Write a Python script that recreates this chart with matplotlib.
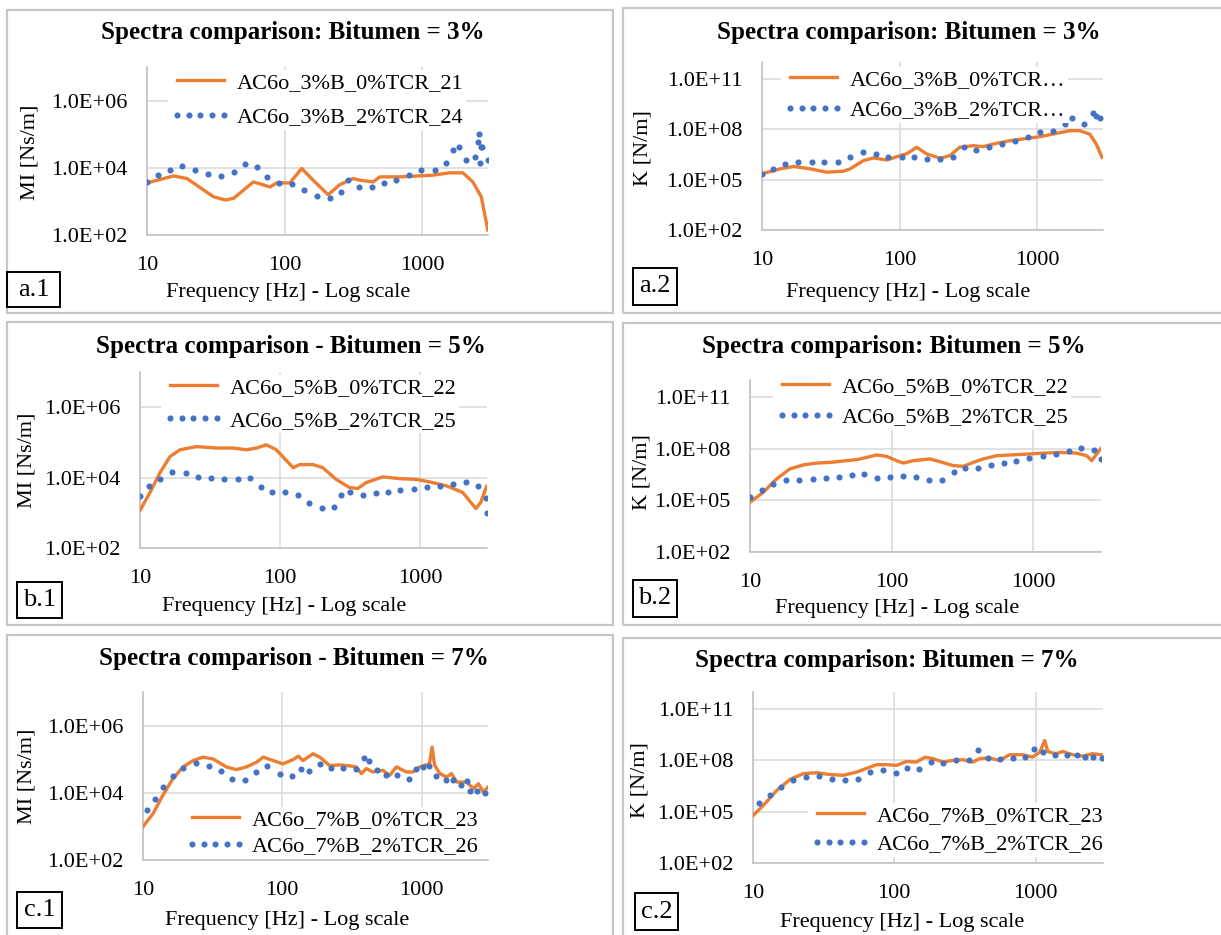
import matplotlib
matplotlib.use("Agg")
import matplotlib.pyplot as plt
from matplotlib.patches import Rectangle
from matplotlib.ticker import NullLocator

plt.rcParams["font.family"] = ["Liberation Serif", "DejaVu Serif"]

W, H = 1221, 935
ORANGE = "#ED7D31"
BLUE = "#4472C4"
GRID = "#D9D9D9"

# ---- data (frequency in Hz, MI in Ns/m, K in N/m) ----
f_mi3_0 = [10, 15.6, 19.5, 30.4, 37, 42.5, 59.3, 78.3, 87.5, 109, 133, 161, 207, 252, 315,
           352, 439, 491, 685, 957, 1194, 1578, 1973, 2330, 2680, 2990]
mi3_0 = [3550, 5730, 4790, 1380, 1100, 1230, 3800, 2690, 3550, 3550, 9550, 4270, 1580, 3160,
         4790, 4270, 3800, 5370, 5370, 5750, 6030, 7080, 7080, 3800, 1380, 141]
f_mi3_2 = [10, 12.0, 14.6, 18.1, 22.5, 27.8, 34.6, 42.7, 51.6, 62.7, 74.5, 91.5, 113, 139, 172,
           212, 256, 289, 347, 432, 527, 648, 805, 984, 1228, 1493, 1660, 1834, 2060, 2395,
           2530, 2600, 2680, 2610, 2720, 2990]
mi3_2 = [3800, 6000, 8800, 11100, 8400, 6600, 5700, 7500, 12700, 10600, 5350, 3630, 3240, 2250,
         1460, 1280, 1920, 4460, 2700, 2700, 3630, 4460, 6000, 8800, 8800, 13900, 33000, 41400,
         16700, 20900, 58000, 103000, 41400, 13900, 41400, 16700]

f_k3_0 = [10, 13.6, 17, 22.4, 29.5, 39, 43.7, 54.5, 64.5, 80.7, 101, 112, 133, 157, 197, 232,
          273, 342, 404, 504, 631, 831, 1040, 1370, 1720, 2030, 2400, 2680, 2950]
k3_0 = [2.24e5, 4.37e5, 6.03e5, 4.37e5, 2.75e5, 3.16e5, 4.37e5, 1.35e6, 1.95e6, 1.48e6, 2.69e6,
        3.39e6, 8.32e6, 3.39e6, 1.86e6, 2.69e6, 8.32e6, 1.05e7, 9.12e6, 1.45e7, 2.04e7, 2.82e7,
        3.55e7, 5.62e7, 8.13e7, 8.13e7, 5.13e7, 1.32e7, 2.14e6]
f_k3_2 = [10, 12.0, 14.8, 18.3, 22.9, 28.4, 35.5, 43.9, 54.1, 67, 82.9, 104, 128, 159, 198, 245,
          293, 360, 445, 550, 684, 851, 1040, 1300, 1590, 1800, 2200, 2530, 2680, 2830]
k3_2 = [2.24e5, 4.37e5, 8.71e5, 1.17e6, 1.1e6, 1.1e6, 1.17e6, 2.34e6, 4.68e6, 3.39e6, 2.34e6,
        2.14e6, 2.14e6, 1.7e6, 1.7e6, 2.34e6, 8.32e6, 5.75e6, 8.32e6, 1.32e7, 2.04e7, 3.55e7,
        6.46e7, 8.13e7, 2.0e8, 4.9e8, 2.0e8, 8.91e8, 6.17e8, 4.47e8]

f_mi5_0 = [10, 11.8, 13.9, 16.4, 19.3, 25.3, 35.2, 46.2, 57.5, 67.9, 79.9, 94, 124, 138, 172,
           202, 251, 312, 358, 412, 542, 712, 937, 1160, 1530, 2010, 2500, 2710, 2980]
mi5_0 = [1175, 3800, 13800, 39800, 61700, 75900, 69200, 69200, 61700, 69200, 85100, 61700, 19100,
         23400, 23400, 19100, 8910, 5250, 4900, 7240, 10500, 9330, 8910, 7590, 5890, 3800, 1320,
         2000, 5620]
f_mi5_2 = [10, 11.6, 13.9, 16.9, 21.2, 26, 32.2, 39.9, 49.7, 60.8, 72.8, 88.0, 109, 134, 162,
           198, 244, 273, 318, 390, 480, 586, 721, 900, 1112, 1390, 1710, 2130, 2600, 2930, 2990]
mi5_2 = [3090, 5620, 9330, 14500, 13200, 10700, 9550, 8910, 9330, 10000, 5250, 3800, 3800, 3240,
         1860, 1350, 1510, 3240, 3980, 3240, 3550, 3980, 4470, 4680, 5250, 5620, 6460, 7590, 5620,
         2570, 1000]

f_k5_0 = [10, 12.4, 15.4, 19.1, 23.8, 29.5, 36.7, 45.5, 56.6, 66.5, 78.3, 92.2, 108, 121, 142,
          186, 219, 272, 320, 376, 442, 550, 684, 895, 1180, 1540, 2010, 2380, 2580, 3000]
k5_0 = [7.94e4, 2.95e5, 1.78e6, 6.76e6, 1.15e7, 1.48e7, 1.62e7, 1.95e7, 2.34e7, 3.16e7, 4.37e7,
        3.63e7, 2.04e7, 1.48e7, 2.04e7, 2.57e7, 1.78e7, 1.05e7, 9.55e6, 1.62e7, 2.57e7, 3.98e7,
        4.37e7, 4.9e7, 5.62e7, 6.17e7, 5.62e7, 3.98e7, 2.04e7, 1.05e8]
f_k5_2 = [10, 12.1, 14.6, 17.9, 22.3, 27.7, 34.2, 42.4, 52.2, 64.1, 79.3, 97.8, 121, 148, 184,
          227, 277, 328, 408, 500, 616, 753, 934, 1160, 1440, 1770, 2170, 2680, 2990]
k5_2 = [1.66e5, 4.27e5, 9.12e5, 1.55e6, 1.62e6, 1.78e6, 1.95e6, 2.19e6, 3.16e6, 3.47e6, 1.95e6,
        2.19e6, 2.51e6, 2.19e6, 1.62e6, 1.62e6, 4.27e6, 7.59e6, 7.59e6, 1.15e7, 1.48e7, 2.04e7,
        2.75e7, 3.63e7, 4.9e7, 7.76e7, 1.05e8, 8.91e7, 2.57e7]

f_mi7_0 = [10, 11.8, 13.9, 16.4, 19.4, 22.9, 26.9, 31.8, 39.7, 46.8, 55.3, 65.3, 73, 86, 101,
           120, 130, 141, 166, 186, 219, 258, 305, 340, 370, 401, 447, 527, 591, 660, 778, 868,
           970, 1080, 1140, 1190, 1240, 1350, 1510, 1640, 1790, 2110, 2360, 2560, 2780, 3000]
mi7_0 = [977, 2400, 8510, 26300, 58900, 91200, 115000, 102000, 58900, 49000, 58900, 81300,
         115000, 91200, 72400, 97700, 123000, 91200, 145000, 115000, 64600, 67600, 63100, 58900,
         37200, 52500, 41700, 46800, 33100, 58900, 41700, 41700, 58900, 67600, 72400, 229000,
         67600, 37200, 29500, 37200, 20900, 20900, 13200, 18600, 10500, 14800]
f_mi7_2 = [10.6, 12.2, 14.0, 16.4, 19.4, 24.2, 29.8, 36.4, 43.9, 54.1, 65.3, 78.2, 96, 117, 136,
           156, 186, 222, 273, 336, 386, 418, 475, 552, 670, 812, 910, 1020, 1140, 1270, 1500,
           1670, 1920, 2120, 2220, 2510, 2840]
mi7_2 = [3020, 6760, 14800, 30900, 55000, 77600, 64600, 43700, 26300, 23400, 41700, 63100,
         37200, 30900, 50100, 43700, 72400, 55000, 55000, 52500, 107000, 91200, 49000, 34700,
         34700, 26300, 52500, 58900, 61700, 30900, 23400, 23400, 17400, 21900, 11700, 11000, 9550]

f_k7_0 = [10, 11.9, 14.8, 18.4, 22.8, 28.3, 35.1, 43.6, 54.2, 67.3, 75, 88.1, 104, 122, 143, 165,
          188, 222, 260, 305, 360, 401, 472, 555, 655, 812, 950, 1070, 1160, 1220, 1390, 1560,
          1830, 2150, 2520, 2930]
k7_0 = [5.89e4, 2.45e5, 1.82e6, 7.94e6, 1.7e7, 1.9e7, 1.48e7, 1.35e7, 2.09e7, 4.07e7, 5.62e7,
        5.62e7, 5.13e7, 8.71e7, 7.94e7, 1.55e8, 1.26e8, 7.94e7, 1.0e8, 1.1e8, 7.94e7, 1.26e8,
        1.38e8, 1.0e8, 2.14e8, 2.14e8, 1.55e8, 3.02e8, 1.45e9, 3.31e8, 2.45e8, 3.31e8, 2.14e8,
        1.78e8, 2.45e8, 2.14e8]
f_k7_2 = [11.1, 13.3, 15.9, 19.3, 23.8, 29.4, 36.5, 44.8, 55.1, 67.6, 82.9, 102, 124, 149, 181,
          222, 275, 338, 390, 464, 563, 693, 842, 981, 1130, 1370, 1670, 1960, 2220, 2560, 2930]
k7_2 = [3.02e5, 9.33e5, 2.82e6, 6.92e6, 1.07e7, 1.17e7, 8.71e6, 6.92e6, 8.71e6, 2.09e7, 2.63e7,
        1.91e7, 3.72e7, 3.31e7, 7.94e7, 6.92e7, 1.0e8, 1.0e8, 3.8e8, 1.38e8, 1.26e8, 1.38e8,
        1.55e8, 4.37e8, 3.02e8, 2.14e8, 2.14e8, 1.95e8, 1.55e8, 1.55e8, 1.38e8]

x_ticks = [10, 100, 1000]
x_tick_labels = ["10", "100", "1000"]
mi_ticks = [1e2, 1e4, 1e6]
mi_tick_labels = ["1.0E+02", "1.0E+04", "1.0E+06"]
k_ticks = [1e2, 1e5, 1e8, 1e11]
k_tick_labels = ["1.0E+02", "1.0E+05", "1.0E+08", "1.0E+11"]

# ---- layout in pixels of the 1221x935 picture ----
panels = [
    dict(tag="a.1", title="Spectra comparison: Bitumen = 3%", ylabel="MI [Ns/m]", kind="mi",
         data=(f_mi3_0, mi3_0, f_mi3_2, mi3_2),
         labels=("AC6o_3%B_0%TCR_21", "AC6o_3%B_2%TCR_24"),
         ax=(147, 67, 488, 235), frame=(7, 10, 613, 313), tbox=(7, 272, 60, 307),
         title_xy=(293, 33), ylab_xy=(30, 152), xlab_xy=(288, 293),
         leg_xy=(168, 100), leg_sp=0.62),
    dict(tag="a.2", title="Spectra comparison: Bitumen = 3%", ylabel="K [N/m]", kind="k",
         data=(f_k3_0, k3_0, f_k3_2, k3_2),
         labels=("AC6o_3%B_0%TCR\u2026", "AC6o_3%B_2%TCR\u2026"),
         ax=(762, 62, 1103, 230), frame=(623, 8, 1240, 313), tbox=(633, 268, 677, 305),
         title_xy=(909, 33), ylab_xy=(643, 148), xlab_xy=(908, 293),
         leg_xy=(781, 95), leg_sp=0.45),
    dict(tag="b.1", title="Spectra comparison - Bitumen = 5%", ylabel="MI [Ns/m]", kind="mi",
         data=(f_mi5_0, mi5_0, f_mi5_2, mi5_2),
         labels=("AC6o_5%B_0%TCR_22", "AC6o_5%B_2%TCR_25"),
         ax=(140, 372, 487, 548), frame=(7, 322, 613, 625), tbox=(17, 582, 62, 618),
         title_xy=(291, 347), ylab_xy=(27, 460), xlab_xy=(284, 607),
         leg_xy=(161, 404), leg_sp=0.55),
    dict(tag="b.2", title="Spectra comparison: Bitumen = 5%", ylabel="K [N/m]", kind="k",
         data=(f_k5_0, k5_0, f_k5_2, k5_2),
         labels=("AC6o_5%B_0%TCR_22", "AC6o_5%B_2%TCR_25"),
         ax=(750, 380, 1101, 552), frame=(623, 323, 1240, 625), tbox=(633, 580, 677, 617),
         title_xy=(894, 347), ylab_xy=(642, 472), xlab_xy=(897, 608),
         leg_xy=(773, 402), leg_sp=0.45),
    dict(tag="c.1", title="Spectra comparison - Bitumen = 7%", ylabel="MI [Ns/m]", kind="mi",
         data=(f_mi7_0, mi7_0, f_mi7_2, mi7_2),
         labels=("AC6o_7%B_0%TCR_23", "AC6o_7%B_2%TCR_26"),
         ax=(143, 692, 488, 860), frame=(7, 635, 613, 950), tbox=(17, 892, 62, 928),
         title_xy=(294, 658), ylab_xy=(27, 776), xlab_xy=(287, 920),
         leg_xy=(183, 833), leg_sp=0.25),
    dict(tag="c.2", title="Spectra comparison: Bitumen = 7%", ylabel="K [N/m]", kind="k",
         data=(f_k7_0, k7_0, f_k7_2, k7_2),
         labels=("AC6o_7%B_0%TCR_23", "AC6o_7%B_2%TCR_26"),
         ax=(753, 692, 1103, 863), frame=(623, 638, 1240, 950), tbox=(635, 893, 678, 930),
         title_xy=(887, 660), ylab_xy=(640, 780), xlab_xy=(902, 922),
         leg_xy=(808, 830), leg_sp=0.35),
]


def fx(px):
    return px / W


def fy(py):
    return 1 - py / H


def pixel_rect(fig, box, **kw):
    x0, y0, x1, y1 = box
    rect = Rectangle((fx(x0), fy(y1)), fx(x1) - fx(x0), fy(y0) - fy(y1),
                     transform=fig.transFigure, fill=False, **kw)
    fig.patches.append(rect)


def draw_panel(fig, p):
    pixel_rect(fig, p["frame"], edgecolor="#C6C6C6", linewidth=1.6)

    x0, y0, x1, y1 = p["ax"]
    ax = fig.add_axes([fx(x0), fy(y1), fx(x1) - fx(x0), fy(y0) - fy(y1)])
    ax.set_xscale("log")
    ax.set_yscale("log")

    f0, v0, f2, v2 = p["data"]
    ax.plot(f0, v0, color=ORANGE, lw=2.4, solid_joinstyle="round", label=p["labels"][0],
            zorder=3)
    ax.plot(f2, v2, linestyle="none", marker="o", ms=4.4, mew=0, color=BLUE,
            label=p["labels"][1], zorder=4)

    ax.set_xlim(10, 3000)
    if p["kind"] == "mi":
        ax.set_ylim(1e2, 1e7)
        ax.set_yticks(mi_ticks, mi_tick_labels)
    else:
        ax.set_ylim(1e2, 1e12)
        ax.set_yticks(k_ticks, k_tick_labels)
    ax.set_xticks(x_ticks, x_tick_labels)
    ax.xaxis.set_minor_locator(NullLocator())
    ax.yaxis.set_minor_locator(NullLocator())

    ax.grid(True, color=GRID, lw=1.1)
    ax.set_axisbelow(True)
    for side in ("top", "right"):
        ax.spines[side].set_visible(False)
    for side in ("left", "bottom"):
        ax.spines[side].set_color("#BFBFBF")
        ax.spines[side].set_linewidth(1.1)
    ax.tick_params(axis="both", length=0, labelsize=16)
    ax.tick_params(axis="x", pad=15)
    ax.tick_params(axis="y", pad=14)

    leg = ax.legend(loc="center left", bbox_to_anchor=(fx(p["leg_xy"][0]), fy(p["leg_xy"][1])),
                    bbox_transform=fig.transFigure, fontsize=16, numpoints=5,
                    handlelength=2.7, handletextpad=0.3, labelspacing=p["leg_sp"],
                    borderpad=0.1, borderaxespad=0, frameon=True, fancybox=False)
    leg.get_frame().set_facecolor("white")
    leg.get_frame().set_edgecolor("none")
    leg.get_frame().set_alpha(1)

    fig.text(fx(p["title_xy"][0]), fy(p["title_xy"][1]), p["title"], ha="center", va="center",
             fontsize=18, fontweight="bold")
    fig.text(fx(p["ylab_xy"][0]), fy(p["ylab_xy"][1]), p["ylabel"], ha="center", va="center",
             rotation=90, fontsize=16)
    fig.text(fx(p["xlab_xy"][0]), fy(p["xlab_xy"][1]), "Frequency [Hz] - Log scale",
             ha="center", va="center", fontsize=16)

    bx0, by0, bx1, by1 = p["tbox"]
    pixel_rect(fig, p["tbox"], edgecolor="black", linewidth=1.4)
    fig.text(fx((bx0 + bx1) / 2), fy((by0 + by1) / 2), p["tag"], ha="center", va="center",
             fontsize=19)


def main():
    fig = plt.figure(figsize=(W / 100, H / 100), dpi=100)
    fig.patch.set_facecolor("white")
    for p in panels:
        draw_panel(fig, p)
    fig.savefig("out.png", dpi=100)
    plt.close(fig)


if __name__ == "__main__":
    main()
